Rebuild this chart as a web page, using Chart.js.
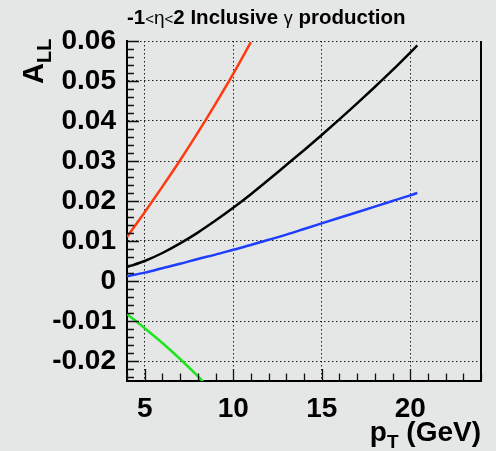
<!DOCTYPE html>
<html>
<head>
<meta charset="utf-8">
<script src="https://cdn.jsdelivr.net/npm/chart.js@4.4.1/dist/chart.umd.min.js"></script>
<style>
  html, body { margin: 0; padding: 0; background: #e4e7e6; }
  #wrap { width: 496px; height: 451px; }
</style>
</head>
<body>
<div id="wrap"><canvas id="allChart" width="496" height="451"></canvas></div>
<script>
// A_LL vs pT
const ptRed = [4, 5, 6, 7, 8, 9, 10, 11];
const allRed = [0.011, 0.0172, 0.0236, 0.0302, 0.0371, 0.0443, 0.0518, 0.0597];

const ptBlack = [4, 5, 6, 7, 8, 9, 10, 11, 12, 13, 14, 15, 16, 17, 18, 19, 20, 20.4];
const allBlack = [0.0035, 0.005, 0.007, 0.0094, 0.0121, 0.0151, 0.0183, 0.0217, 0.0253,
                  0.029, 0.0327, 0.0365, 0.0404, 0.0444, 0.0485, 0.0527, 0.0571, 0.0589];

const ptBlue = [4, 5, 6, 7, 8, 9, 10, 11, 12, 13, 14, 15, 16, 17, 18, 19, 20, 20.4];
const allBlue = [0.0012, 0.0021, 0.0032, 0.0043, 0.0055, 0.0066, 0.0078, 0.009, 0.0103,
                 0.0116, 0.013, 0.0144, 0.0158, 0.0172, 0.0186, 0.02, 0.0214, 0.022];

const ptGreen = [4, 5, 6, 7, 8, 8.3];
const allGreen = [-0.0083, -0.0118, -0.0155, -0.0195, -0.0238, -0.0252];

const xTicks = [5, 10, 15, 20];
const yTicks = [-0.02, -0.01, 0, 0.01, 0.02, 0.03, 0.04, 0.05, 0.06];

const pts = (xs, ys) => xs.map((x, i) => ({ x: x, y: ys[i] }));
const FONT = '"Liberation Sans", Arial, Helvetica, sans-serif';

function curve(data, color) {
    return {
        data: data,
        borderColor: color,
        borderWidth: 2.5,
        pointRadius: 0,
        fill: false,
        cubicInterpolationMode: 'monotone',
        clip: 0
    };
}

// background, ROOT style inner ticks, right frame and the texts
const decor = {
    id: 'decor',
    beforeDraw(chart) {
        const ctx = chart.ctx;
        ctx.save();
        ctx.fillStyle = '#e4e7e6';
        ctx.fillRect(0, 0, chart.width, chart.height);
        ctx.restore();
    },
    afterDraw(chart) {
        const ctx = chart.ctx;
        const a = chart.chartArea;
        const xs = chart.scales.x, ys = chart.scales.y;
        ctx.save();
        ctx.strokeStyle = '#111';
        ctx.lineWidth = 1.3;
        ctx.beginPath();
        for (let v = 4; v <= 24; v += 1) {
            const px = Math.round(xs.getPixelForValue(v)) + 0.5;
            const len = v % 5 === 0 ? 12 : 7.5;
            ctx.moveTo(px, a.bottom);
            ctx.lineTo(px, a.bottom - len);
        }
        for (let k = -12; k <= 30; k++) {
            const v = k * 0.002;
            const py = Math.round(ys.getPixelForValue(v)) + 0.5;
            const len = k % 5 === 0 ? 12 : 7;
            ctx.moveTo(a.left, py);
            ctx.lineTo(a.left + len, py);
        }
        ctx.stroke();

        // right frame
        ctx.lineWidth = 2;
        ctx.strokeStyle = '#000';
        ctx.beginPath();
        ctx.moveTo(a.right, a.top);
        ctx.lineTo(a.right, a.bottom + 1);
        ctx.stroke();

        // title
        ctx.fillStyle = '#000';
        ctx.textBaseline = 'alphabetic';
        ctx.textAlign = 'left';
        const parts = [
            ['-1', 'bold 20.5px ' + FONT],
            ['<', '15px ' + FONT],
            ['\u03b7', '19px ' + FONT],
            ['<', '15px ' + FONT],
            ['2 Inclusive ', 'bold 20.5px ' + FONT],
            ['\u03b3', '18px ' + FONT],
            [' production', 'bold 20.5px ' + FONT]
        ];
        let tx = a.left;
        parts.forEach(([s, f]) => {
            ctx.font = f;
            ctx.fillText(s, tx, 24);
            tx += ctx.measureText(s).width;
        });

        // y axis title A_LL
        ctx.save();
        ctx.translate(43, 84);
        ctx.rotate(-Math.PI / 2);
        ctx.font = 'bold 29px ' + FONT;
        ctx.fillText('A', 0, 0);
        const wA = ctx.measureText('A').width;
        ctx.font = 'bold 20px ' + FONT;
        ctx.fillText('LL', wA, 8);
        ctx.restore();

        // x axis title p_T (GeV)
        ctx.font = 'bold 28px ' + FONT;
        const wp = ctx.measureText('p').width;
        const wg = ctx.measureText(' (GeV)').width;
        ctx.font = 'bold 19px ' + FONT;
        const wt = ctx.measureText('T').width;
        const sx = a.right - (wp + wt + wg);
        ctx.font = 'bold 28px ' + FONT;
        ctx.fillText('p', sx, 441);
        ctx.font = 'bold 19px ' + FONT;
        ctx.fillText('T', sx + wp, 448);
        ctx.font = 'bold 28px ' + FONT;
        ctx.fillText(' (GeV)', sx + wp + wt, 441);
        ctx.restore();
    }
};

new Chart(document.getElementById('allChart'), {
    type: 'line',
    data: {
        datasets: [
            curve(pts(ptRed, allRed), '#ff3a10'),
            curve(pts(ptBlack, allBlack), '#000000'),
            curve(pts(ptBlue, allBlue), '#1f3dff'),
            curve(pts(ptGreen, allGreen), '#1ee61e')
        ]
    },
    options: {
        responsive: false,
        animation: false,
        layout: { padding: { left: 0, right: 15, top: 41, bottom: 0 } },
        plugins: {
            legend: { display: false },
            title: { display: false },
            tooltip: { enabled: false }
        },
        scales: {
            x: {
                type: 'linear',
                min: 4,
                max: 24,
                afterBuildTicks: (s) => { s.ticks = xTicks.map(v => ({ value: v })); },
                afterFit: (s) => { s.height = 70; },
                grid: { color: '#222', lineWidth: 1, drawTicks: false },
                border: { display: true, color: '#000', width: 2, dash: [1.5, 2.5] },
                ticks: {
                    padding: 11,
                    color: '#000',
                    font: { family: FONT, size: 28, weight: 'bold' },
                    maxRotation: 0
                }
            },
            y: {
                type: 'linear',
                min: -0.025,
                max: 0.06,
                afterBuildTicks: (s) => { s.ticks = yTicks.map(v => ({ value: v })); },
                afterFit: (s) => { s.width = 127; },
                grid: { color: '#222', lineWidth: 1, drawTicks: false },
                border: { display: true, color: '#000', width: 2, dash: [1.5, 2.5] },
                ticks: {
                    padding: 11,
                    color: '#000',
                    font: { family: FONT, size: 28, weight: 'bold' },
                    callback: (v) => Math.abs(v) < 1e-9 ? '0' : v.toFixed(2)
                }
            }
        }
    },
    plugins: [decor]
});
</script>
</body>
</html>
